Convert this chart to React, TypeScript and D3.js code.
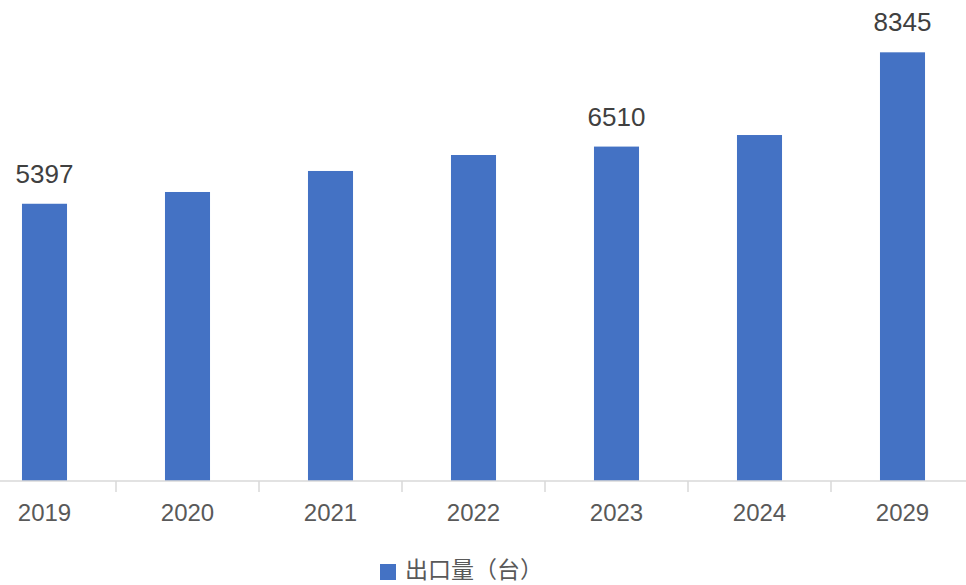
import React from "react";
import * as d3 from "d3";

const categories = ["2019", "2020", "2021", "2022", "2023", "2024", "2029"];
const values = [5397, 5626, 6035, 6346, 6510, 6735, 8345];
const labeled = ["2019", "2023", "2029"];
const seriesName = "出口量（台）";

const W = 966;
const H = 585;

export default function App() {
  const x = d3
    .scaleBand<string>()
    .domain(categories)
    .range([-27, 974])
    .paddingInner(0.685)
    .paddingOuter(0.3425);
  const baseY = 481;
  const y = d3.scaleLinear().domain([0, 9000]).range([baseY, baseY - 9000 * 0.05137]);
  const step = x.step();
  const bounds = categories.slice(1).map((c) => (x(c) as number) - (step * 0.685) / 2);

  return (
    <svg
      width={W}
      height={H}
      style={{ position: "absolute", left: 0, top: 0, background: "#fff" }}
      fontFamily="Arial, 'Liberation Sans', sans-serif"
    >
      {categories.map((c, i) => (
        <rect
          key={c}
          x={x(c)}
          y={y(values[i])}
          width={x.bandwidth()}
          height={baseY - y(values[i])}
          fill="#4472C4"
        />
      ))}
      <line x1={-27} x2={974} y1={baseY} y2={baseY} stroke="#d9d9d9" strokeWidth={1.5} />
      {bounds.map((b, i) => (
        <line key={i} x1={b} x2={b} y1={baseY} y2={baseY + 11} stroke="#d9d9d9" strokeWidth={1.5} />
      ))}
      {categories.map((c) => (
        <text
          key={c}
          x={(x(c) as number) + x.bandwidth() / 2}
          y={521}
          textAnchor="middle"
          fontSize={24}
          fill="#595959"
        >
          {c}
        </text>
      ))}
      {categories.map((c, i) =>
        labeled.includes(c) ? (
          <text
            key={c}
            x={(x(c) as number) + x.bandwidth() / 2}
            y={y(values[i]) - 21}
            textAnchor="middle"
            fontSize={26}
            fill="#404040"
          >
            {values[i]}
          </text>
        ) : null
      )}
      <rect x={380} y={564} width={16} height={16} fill="#4472C4" />
      <text x={405} y={578} fontSize={23} fill="#595959" fontFamily="'Noto Sans CJK SC', sans-serif">
        {seriesName}
      </text>
    </svg>
  );
}
